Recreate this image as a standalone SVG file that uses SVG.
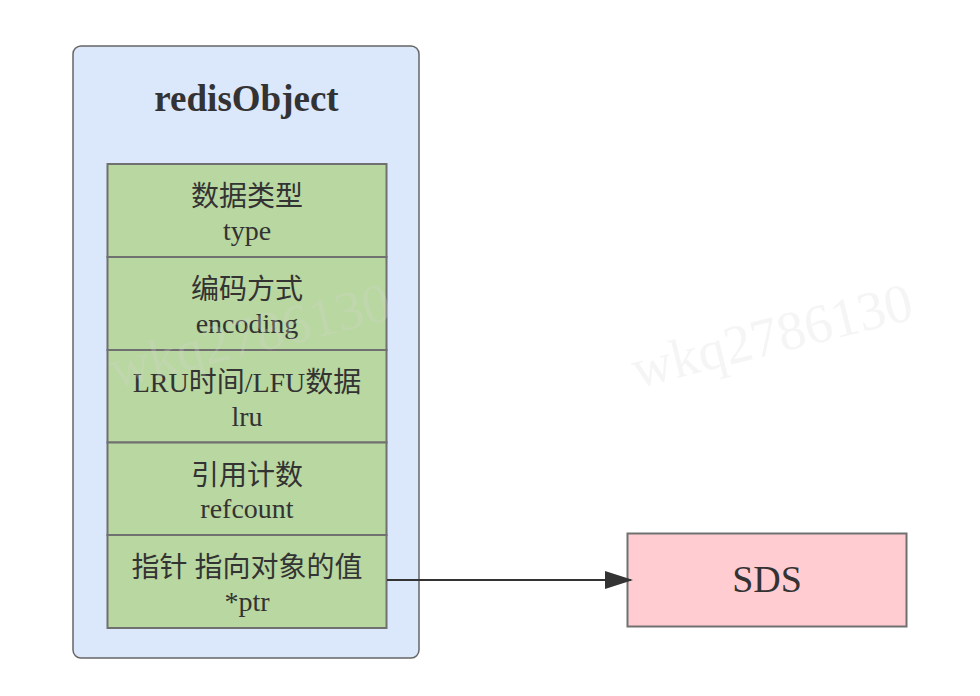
<svg xmlns="http://www.w3.org/2000/svg" width="980" height="696" viewBox="0 0 980 696">
<style>
.t{font-family:"Liberation Serif","Noto Sans CJK SC",serif;fill:#333;text-anchor:middle}
.cell{fill:#b9d7a0;stroke:#707070;stroke-width:2}
.f{font-size:28px}
.wm{font-family:"Liberation Serif",serif;font-size:55px;fill:#d8d8d8;fill-opacity:0.25}
</style>
<defs>
<marker id="arr" markerWidth="28" markerHeight="18" refX="26" refY="9" orient="auto" markerUnits="userSpaceOnUse">
<path d="M0,0 L28,9 L0,18 Z" fill="#333"/>
</marker>
</defs>
<rect width="980" height="696" fill="#fff"/>
<g id="redisObject">
<rect x="73" y="46" width="346" height="612" rx="8" fill="#dbe7fb" stroke="#666" stroke-width="1.5"/>
<text class="t" x="246.5" y="111" font-size="37" font-weight="bold">redisObject</text>
</g>
<g id="type">
<rect class="cell" x="107.5" y="164" width="279" height="93"/>
<text class="t f" x="247" y="206">数据类型</text>
<text class="t f" x="247" y="240">type</text>
</g>
<g id="encoding">
<rect class="cell" x="107.5" y="257" width="279" height="93"/>
<text class="t f" x="247" y="299">编码方式</text>
<text class="t f" x="247" y="332.5">encoding</text>
</g>
<g id="lru">
<rect class="cell" x="107.5" y="350" width="279" height="92.5"/>
<text class="t f" x="247" y="392">LRU时间/LFU数据</text>
<text class="t f" x="247" y="425.5">lru</text>
</g>
<g id="refcount">
<rect class="cell" x="107.5" y="442.5" width="279" height="92.5"/>
<text class="t f" x="247" y="484.5">引用计数</text>
<text class="t f" x="247" y="518">refcount</text>
</g>
<g id="ptr">
<rect class="cell" x="107.5" y="535" width="279" height="93"/>
<text class="t f" x="247" y="577">指针 指向对象的值</text>
<text class="t f" x="247" y="610.5">*ptr</text>
</g>
<g id="SDS">
<rect x="627.5" y="533.5" width="279" height="93" fill="#ffccd2" stroke="#707070" stroke-width="2"/>
<text class="t" x="767" y="592" font-size="38">SDS</text>
</g>
<g id="connectors">
<line x1="387" y1="580" x2="631" y2="580" stroke="#333" stroke-width="2" marker-end="url(#arr)"/>
</g>
<g id="watermarks">
<text class="wm" transform="translate(115,388) rotate(-14)">wkq2786130</text>
<text class="wm" transform="translate(637,388) rotate(-14)">wkq2786130</text>
</g>
</svg>
